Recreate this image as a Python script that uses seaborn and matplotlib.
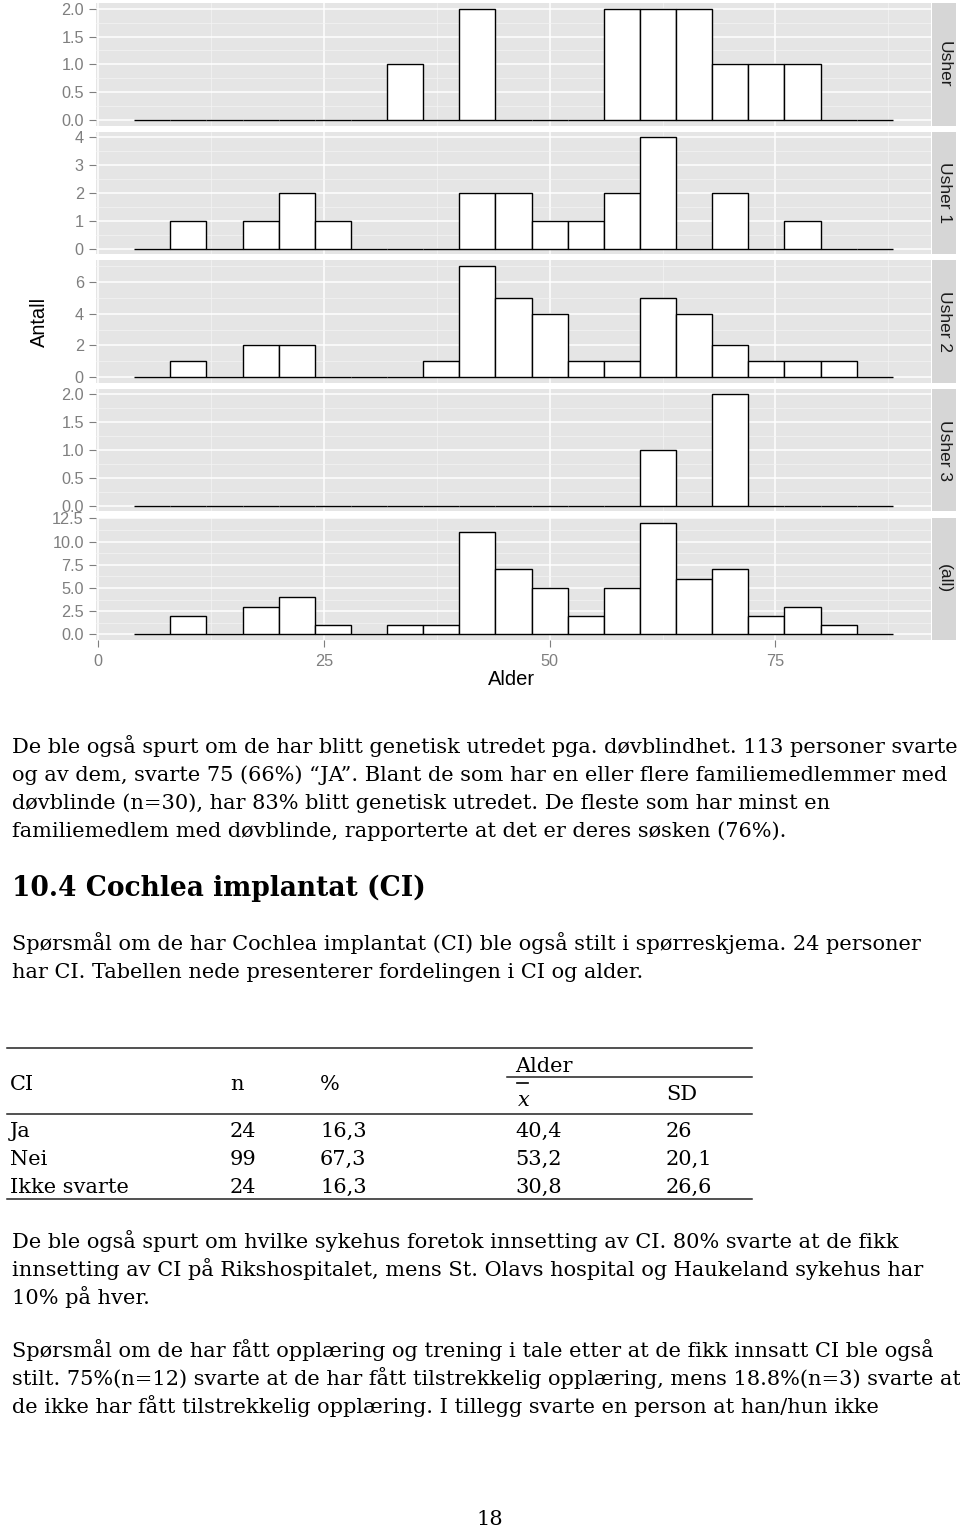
import numpy as np
import pandas as pd
import matplotlib
matplotlib.use("Agg")
import matplotlib.pyplot as plt
import seaborn as sns
from matplotlib.ticker import FixedLocator, MultipleLocator, FormatStrFormatter
from matplotlib.patches import Rectangle

# ---------------- data ----------------
age_mid = [6, 10, 14, 18, 22, 26, 30, 34, 38, 42, 46, 50, 54, 58, 62, 66, 70, 74, 78, 82, 86]
bin_width = 4
usher   = [0, 0, 0, 0, 0, 0, 0, 1, 0, 2, 0, 0, 0, 2, 2, 2, 1, 1, 1, 0, 0]
usher_1 = [0, 1, 0, 1, 2, 1, 0, 0, 0, 2, 2, 1, 1, 2, 4, 0, 2, 0, 1, 0, 0]
usher_2 = [0, 1, 0, 2, 2, 0, 0, 0, 1, 7, 5, 4, 1, 1, 5, 4, 2, 1, 1, 1, 0]
usher_3 = [0, 0, 0, 0, 0, 0, 0, 0, 0, 0, 0, 0, 0, 0, 1, 0, 2, 0, 0, 0, 0]
group_names = ["Usher", "Usher 1", "Usher 2", "Usher 3"]
all_label = "(all)"
y_tick_sets = [[0, 0.5, 1, 1.5, 2], [0, 1, 2, 3, 4], [0, 2, 4, 6],
               [0, 0.5, 1, 1.5, 2], [0, 2.5, 5, 7.5, 10, 12.5]]
y_fmt = ["%.1f", "%d", "%d", "%.1f", "%.1f"]
x_ticks = [0, 25, 50, 75]
x_title = "Alder"
y_title = "Antall"

body_a = [
    "De ble også spurt om de har blitt genetisk utredet pga. døvblindhet. 113 personer svarte",
    "og av dem, svarte 75 (66%) \u201cJA\u201d. Blant de som har en eller flere familiemedlemmer med",
    "døvblinde (n=30), har 83% blitt genetisk utredet. De fleste som har minst en",
    "familiemedlem med døvblinde, rapporterte at det er deres søsken (76%).",
]
heading = "10.4 Cochlea implantat (CI)"
body_b = [
    "Spørsmål om de har Cochlea implantat (CI) ble også stilt i spørreskjema. 24 personer",
    "har CI. Tabellen nede presenterer fordelingen i CI og alder.",
]
table_cols = ["CI", "n", "%", "SD"]
table_group = "Alder"
table_rows = [["Ja", "24", "16,3", "40,4", "26"],
              ["Nei", "99", "67,3", "53,2", "20,1"],
              ["Ikke svarte", "24", "16,3", "30,8", "26,6"]]
body_c = [
    "De ble også spurt om hvilke sykehus foretok innsetting av CI. 80% svarte at de fikk",
    "innsetting av CI på Rikshospitalet, mens St. Olavs hospital og Haukeland sykehus har",
    "10% på hver.",
]
body_d = [
    "Spørsmål om de har fått opplæring og trening i tale etter at de fikk innsatt CI ble også",
    "stilt. 75%(n=12) svarte at de har fått tilstrekkelig opplæring, mens 18.8%(n=3) svarte at",
    "de ikke har fått tilstrekkelig opplæring. I tillegg svarte en person at han/hun ikke",
]
page_no = "18"

# ---------------- figure ----------------
plt.rcParams["font.family"] = ["Liberation Sans", "DejaVu Sans"]
W, H = 960, 1527
fig = plt.figure(figsize=(W / 100, H / 100), dpi=100)
page = fig.add_axes([0, 0, 1, 1], zorder=0)
page.set_xlim(0, W)
page.set_ylim(H, 0)
page.axis("off")

rows = []
for name, cnt in zip(group_names, [usher, usher_1, usher_2, usher_3]):
    for a, c in zip(age_mid, cnt):
        rows.append((name, a, c))
df = pd.DataFrame(rows, columns=["gruppe", "alder", "antall"])
edges = [age_mid[0] - bin_width / 2] + [a + bin_width / 2 for a in age_mid]
span = edges[-1] - edges[0]
xlim = (edges[0] - 0.05 * span, edges[-1] + 0.05 * span)

px_left, px_right = 96.3, 930.7
top0, ph, step = 3.1, 122.5, 128.6
labels = group_names + [all_label]
for i, lab in enumerate(labels):
    top = top0 + i * step
    ax = fig.add_axes([px_left / W, 1 - (top + ph) / H, (px_right - px_left) / W, ph / H], zorder=1)
    sub = df if lab == all_label else df[df["gruppe"] == lab]
    sns.histplot(data=sub, x="alder", weights="antall", bins=edges, ax=ax,
                 color="white", edgecolor="black", linewidth=1.0, alpha=1)
    ymax = sub.groupby("alder")["antall"].sum().max()
    ax.set_xlim(*xlim)
    ax.set_ylim(-0.05 * ymax, 1.05 * ymax)
    ax.set_facecolor("#E5E5E5")
    ax.set_axisbelow(True)
    for s in ax.spines.values():
        s.set_visible(False)
    ax.set_xlabel("")
    ax.set_ylabel("")
    yt = y_tick_sets[i]
    ax.yaxis.set_major_locator(FixedLocator(yt))
    ax.yaxis.set_minor_locator(MultipleLocator((yt[1] - yt[0]) / 2))
    ax.yaxis.set_major_formatter(FormatStrFormatter(y_fmt[i]))
    ax.xaxis.set_major_locator(FixedLocator(x_ticks))
    ax.xaxis.set_minor_locator(MultipleLocator(12.5))
    ax.grid(which="major", color="white", linewidth=1.1)
    ax.grid(which="minor", color="#F4F4F4", linewidth=0.5)
    ax.tick_params(axis="y", which="major", length=5, width=0.8, color="#7F7F7F",
                   labelcolor="#7F7F7F", labelsize=11.7, pad=4)
    ax.tick_params(axis="both", which="minor", length=0)
    if i < len(labels) - 1:
        ax.tick_params(axis="x", which="major", length=0, labelbottom=False)
    else:
        ax.tick_params(axis="x", which="major", length=5, width=0.8, color="#7F7F7F",
                       labelcolor="#7F7F7F", labelsize=11.7, pad=5)
    # strip
    page.add_patch(Rectangle((932, top), 24, ph, facecolor="#D6D6D6", edgecolor="none"))
    page.text(944, top + ph / 2, lab, rotation=270, ha="center", va="center",
              fontsize=12.5, color="#1A1A1A")

page.text(39, 321.7, y_title, rotation=90, ha="center", va="center", fontsize=14.4, color="black")
page.text(512, 679.5, x_title, ha="center", va="center", fontsize=14.5, color="black")

# ---------------- text part ----------------
renderer = fig.canvas.get_renderer()
serif = ["DejaVu Serif"]


def measure(s, size, **kw):
    t = page.text(0, 0, s, fontsize=size, family=serif, **kw)
    w = t.get_window_extent(renderer).width
    t.remove()
    return w


targets = [(body_a[0], 943), (body_a[1], 940), (body_b[0], 912), (body_c[0], 894),
           (body_c[1], 930), (body_d[0], 928), (body_d[1], 943)]
fs = min(10 * t / measure(s, 10) for s, t in targets)
fs_head = 10 * 416 / measure(heading, 10, fontweight="bold")

x0 = 12
for s, yb in zip(body_a, [753, 781, 809, 837]):
    page.text(x0, yb, s, fontsize=fs, family=serif, va="baseline", color="black")
page.text(x0, 896, heading, fontsize=fs_head, family=serif, fontweight="bold",
          va="baseline", color="black")
for s, yb in zip(body_b, [950, 978]):
    page.text(x0, yb, s, fontsize=fs, family=serif, va="baseline", color="black")

# table
rule_kw = dict(color="#222222", linewidth=1.1)
page.plot([7, 752], [1047.5, 1047.5], **rule_kw)
page.plot([507, 752], [1076.5, 1076.5], **rule_kw)
page.plot([7, 752], [1113.5, 1113.5], **rule_kw)
page.plot([7, 752], [1198.5, 1198.5], **rule_kw)
col_x = [10, 230, 320, 515, 666]
page.text(515, 1072, table_group, fontsize=fs, family=serif, va="baseline")
page.text(col_x[0], 1090, table_cols[0], fontsize=fs, family=serif, va="baseline")
page.text(col_x[1], 1090, table_cols[1], fontsize=fs, family=serif, va="baseline")
page.text(col_x[2], 1090, table_cols[2], fontsize=fs, family=serif, va="baseline")
page.text(col_x[4], 1100, table_cols[3], fontsize=fs, family=serif, va="baseline")
page.text(518, 1106, "x", fontsize=fs, family=serif, style="italic", va="baseline")
page.plot([517, 528], [1083, 1083], color="black", linewidth=1.2)
for r, yb in zip(table_rows, [1137, 1165, 1193]):
    for cx, val in zip(col_x, r):
        page.text(cx, yb, val, fontsize=fs, family=serif, va="baseline")

for s, yb in zip(body_c, [1248, 1276, 1304]):
    page.text(x0, yb, s, fontsize=fs, family=serif, va="baseline", color="black")
for s, yb in zip(body_d, [1357, 1385, 1413]):
    page.text(x0, yb, s, fontsize=fs, family=serif, va="baseline", color="black")
page.text(490, 1525, page_no, fontsize=fs, family=serif, ha="center", va="baseline")

fig.savefig("out.png", dpi=100)
